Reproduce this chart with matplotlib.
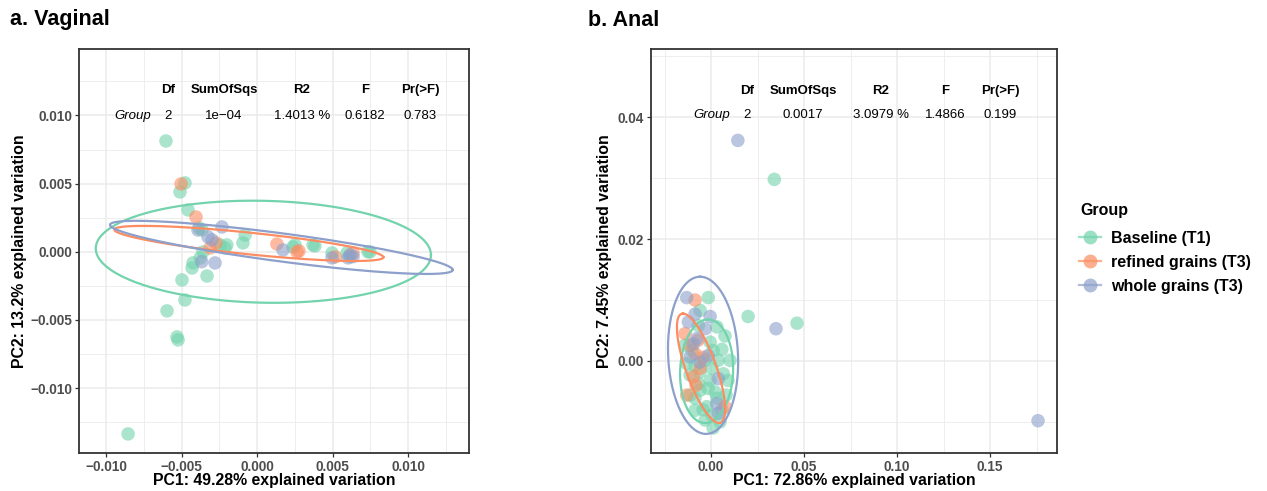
import numpy as np
import matplotlib
matplotlib.use("Agg")
import matplotlib.pyplot as plt
from matplotlib.lines import Line2D

plt.rcParams['font.family'] = ['Liberation Sans', 'DejaVu Sans']

groups = ['Baseline (T1)', 'refined grains (T3)', 'whole grains (T3)']
colors = ['#72D3AC', '#FC8D62', '#8DA0CB']

# a. Vaginal - PCoA coordinates (PC1, PC2)
vag_base_x = [-0.00603, -0.00477, -0.0051, -0.00457, -0.00384, -0.00364, -0.00079, -0.00093,
              -0.00212, -0.00245, -0.00358, -0.00377, -0.00424, -0.0043, -0.00331, -0.00497,
              -0.00477, -0.00596, -0.0053, -0.00523, -0.00854, 0.00238, 0.00371, 0.00384,
              0.00497, 0.00596, 0.00748, 0.00735, 0.00252, 0.00616, -0.0020]
vag_base_y = [0.00813, 0.00505, 0.00439, 0.00307, 0.00175, 0.0016, 0.00123, 0.00065,
              0.00028, 0.0005, -0.00001, -0.00046, -0.00082, -0.00119, -0.00178, -0.00207,
              -0.00354, -0.00434, -0.00625, -0.00647, -0.01337, 0.00035, 0.0005, 0.00043,
              -0.00009, -0.00009, -0.00001, 0.0, 0.0005, -0.00036, 0.0005]
vag_ref_x = [-0.00503, -0.00404, -0.00272, -0.00311, 0.00132, 0.00278, 0.00265, 0.00517, 0.00636]
vag_ref_y = [0.00498, 0.00255, 0.00065, 0.00028, 0.00057, 0.00006, -0.00001, -0.00038, -0.00009]
vag_whole_x = [-0.00391, -0.00232, -0.00325, -0.00298, -0.00278, 0.00172, 0.00497, 0.00616,
               0.00603, -0.00366, 0.00636]
vag_whole_y = [0.0016, 0.00182, 0.00109, 0.00087, -0.00082, 0.00013, -0.00045, -0.00023,
               -0.00045, -0.00073, -0.00036]

# b. Anal
anal_base_x = [-0.0015, -0.0059, 0.0031, -0.0068, 0.0058, -0.0131, 0.0066, -0.0005, -0.0086,
               -0.0023, 0.0048, -0.0068, -0.0032, 0.0005, -0.0059, 0.0022, -0.0113, 0.0081,
               -0.0043, 0.0038, -0.0102, -0.0005, 0.0005, 0.0075, 0.0102, 0.0091, -0.0113,
               -0.0086, 0.0011, -0.0032, -0.0140, 0.0011, -0.0059, 0.0032, 0.0059, -0.0016,
               -0.0086, 0.0199, 0.0340, 0.0462]
anal_base_y = [0.0104, 0.0083, 0.0056, 0.0058, 0.0019, -0.0004, -0.0021, -0.0032, -0.0061,
               -0.0075, -0.0100, -0.0037, 0.0001, -0.0012, -0.0048, -0.0051, -0.0023, -0.0056,
               -0.0080, 0.0001, 0.0017, 0.0031, -0.0089, 0.0041, 0.0001, -0.0032, -0.0056,
               -0.0081, -0.0110, -0.0097, 0.0026, 0.0017, -0.0018, -0.0061, -0.0080, -0.0045,
               -0.0007, 0.0073, 0.0298, 0.0062]
anal_ref_x = [-0.0086, -0.0140, -0.0070, -0.0086, -0.0059, -0.0095, -0.0131, 0.0075, -0.0113,
              -0.0043, -0.0081]
anal_ref_y = [0.0100, 0.0045, 0.0034, 0.0012, -0.0012, -0.0026, -0.0056, -0.0075, 0.0026,
              0.0006, -0.0040]
anal_whole_x = [-0.0131, -0.0086, -0.0005, -0.0122, -0.0032, -0.0095, -0.0015, -0.0113, 0.0039,
                0.0031, 0.0039, -0.0059, -0.0075, 0.0144, 0.0349, 0.1758]
anal_whole_y = [0.0104, 0.0077, 0.0073, 0.0064, 0.0053, 0.0028, 0.0009, 0.0007, -0.0029,
                -0.0070, -0.0086, -0.0002, 0.0037, 0.0362, 0.0053, -0.0098]

# 95% ellipses: centre and two conjugate semi-diameters
vag_ell_c = [(0.00042, 0.0), (-0.00054, 0.00061), (0.00161, 0.00032)]
vag_ell_u = [(0.0111, -0.00024), (0.00891, -0.00101), (0.01135, -0.00165)]
vag_ell_v = [(0.0, 0.00374), (0.0, 0.0008), (0.0, 0.00104)]
anal_ell_c = [(-0.0024, -0.00168), (-0.0054, -0.0012), (-0.0043, 0.00093)]
anal_ell_u = [(0.0008, 0.0085), (-0.0097, 0.00898), (-0.0016, 0.0129)]
anal_ell_v = [(0.01425, 0.0), (0.0086, 0.0), (0.0188, 0.0)]

# PERMANOVA table
tab_header = ['Df', 'SumOfSqs', 'R2', 'F', 'Pr(>F)']
vag_row = ['2', '1e\u221204', '1.4013 %', '0.6182', '0.783']
anal_row = ['2', '0.0017', '3.0979 %', '1.4866', '0.199']

fig = plt.figure(figsize=(12.67, 4.91), dpi=100)
W, H = 1267, 491


def make_ax(x0, x1, y0, y1):
    return fig.add_axes([x0 / W, 1 - y1 / H, (x1 - x0) / W, (y1 - y0) / H])


def style(ax, xmaj, xmin, ymaj, ymin, xfmt, yfmt):
    ax.set_facecolor('white')
    ax.set_xticks(xmaj)
    ax.set_xticks(xmin, minor=True)
    ax.set_yticks(ymaj)
    ax.set_yticks(ymin, minor=True)
    ax.set_xticklabels([xfmt(v) for v in xmaj])
    ax.set_yticklabels([yfmt(v) for v in ymaj])
    ax.grid(True, which='major', color='#EBEBEB', lw=1.1, zorder=0)
    ax.grid(True, which='minor', color='#EBEBEB', lw=0.6, zorder=0)
    ax.set_axisbelow(True)
    ax.tick_params(which='major', length=3, width=0.9, color='#333333',
                   labelsize=9.8, labelcolor='#4D4D4D', pad=2)
    ax.tick_params(which='minor', length=0)
    for lab in ax.get_xticklabels() + ax.get_yticklabels():
        lab.set_fontweight('bold')
    for s in ax.spines.values():
        s.set_color('#333333')
        s.set_linewidth(1.3)


def fmt(dec):
    def f(v):
        s = f'{v:.{dec}f}'
        if v < -1e-12:
            s = '\u2212' + s[1:]
        elif s.startswith('-'):
            s = s[1:]
        return s
    return f


def ellipse(ax, c, u, v, col):
    t = np.linspace(0, 2 * np.pi, 300)
    x = c[0] + u[0] * np.cos(t) + v[0] * np.sin(t)
    y = c[1] + u[1] * np.cos(t) + v[1] * np.sin(t)
    ax.plot(x, y, color=col, lw=1.6, zorder=3)


def table(ax, xs, xgroup, yh, yr, row):
    for x, h in zip(xs, tab_header):
        ax.text(x, yh, h, transform=ax.transAxes, ha='center', va='center',
                fontsize=9.5, fontweight='bold', color='black')
    ax.text(xgroup, yr, 'Group', transform=ax.transAxes, ha='right', va='center',
            fontsize=9.5, style='italic', color='black')
    for x, r in zip(xs, row):
        ax.text(x, yr, r, transform=ax.transAxes, ha='center', va='center',
                fontsize=9.5, color='black')


# ---- a. Vaginal
ax1 = make_ax(79, 469, 49, 453)
pts = [(vag_base_x, vag_base_y), (vag_ref_x, vag_ref_y), (vag_whole_x, vag_whole_y)]
for (px, py), col in zip(pts, colors):
    ax1.scatter(px, py, s=95, color=col, alpha=0.6, edgecolors='none', zorder=2)
for c, u, v, col in zip(vag_ell_c, vag_ell_u, vag_ell_v, colors):
    ellipse(ax1, c, u, v, col)
style(ax1, [-0.01, -0.005, 0, 0.005, 0.01], [-0.0075, -0.0025, 0.0025, 0.0075, 0.0125],
      [-0.01, -0.005, 0, 0.005, 0.01], [-0.0125, -0.0075, -0.0025, 0.0025, 0.0075, 0.0125],
      fmt(3), fmt(3))
ax1.set_xlim(-0.01179, 0.01404)
ax1.set_ylim(-0.01477, 0.01488)
table(ax1, [0.2282, 0.3718, 0.5718, 0.7333, 0.8744], 0.1846, 0.8985, 0.834, vag_row)

# ---- b. Anal
ax2 = make_ax(651, 1057, 49, 453)
pts = [(anal_base_x, anal_base_y), (anal_ref_x, anal_ref_y), (anal_whole_x, anal_whole_y)]
for (px, py), col in zip(pts, colors):
    ax2.scatter(px, py, s=95, color=col, alpha=0.6, edgecolors='none', zorder=2)
for c, u, v, col in zip(anal_ell_c, anal_ell_u, anal_ell_v, colors):
    ellipse(ax2, c, u, v, col)
style(ax2, [0, 0.05, 0.1, 0.15], [-0.025, 0.025, 0.075, 0.125, 0.175],
      [0, 0.02, 0.04], [-0.01, 0.01, 0.03, 0.05], fmt(2), fmt(2))
ax2.set_xlim(-0.0323, 0.186)
ax2.set_ylim(-0.0151, 0.0512)
table(ax2, [0.2357, 0.3744, 0.5658, 0.7241, 0.8596], 0.1946, 0.8968, 0.8366, anal_row)

# labels
lab_kw = dict(fontsize=11.4, fontweight='bold', color='black', ha='center', va='center')
fig.text(274 / W, 1 - 481 / H, 'PC1: 49.28% explained variation', **lab_kw)
fig.text(854 / W, 1 - 481 / H, 'PC1: 72.86% explained variation', **lab_kw)
fig.text(20 / W, 1 - 251 / H, 'PC2: 13.2% explained variation', rotation=90, **lab_kw)
fig.text(605 / W, 1 - 251 / H, 'PC2: 7.45% explained variation', rotation=90, **lab_kw)
fig.text(10 / W, 1 - 20 / H, 'a. Vaginal', fontsize=15.5, fontweight='bold', va='center')
fig.text(588 / W, 1 - 20 / H, 'b. Anal', fontsize=15.5, fontweight='bold', va='center')

# legend
fig.text(1080 / W, 1 - 211 / H, 'Group', fontsize=11.5, fontweight='bold', va='center')
handles = [Line2D([], [], color=c, marker='o', markersize=10, lw=1.6, alpha=0.7,
                  markeredgecolor='none') for c in colors]
fig.legend(handles, groups, loc='upper left',
           bbox_to_anchor=(1079 / W, 1 - 231 / H), frameon=False,
           prop=dict(size=11.5, weight='bold'), handlelength=1.4,
           handletextpad=0.6, labelspacing=0.55, borderaxespad=0, borderpad=0)

fig.savefig('out.png', dpi=100)
